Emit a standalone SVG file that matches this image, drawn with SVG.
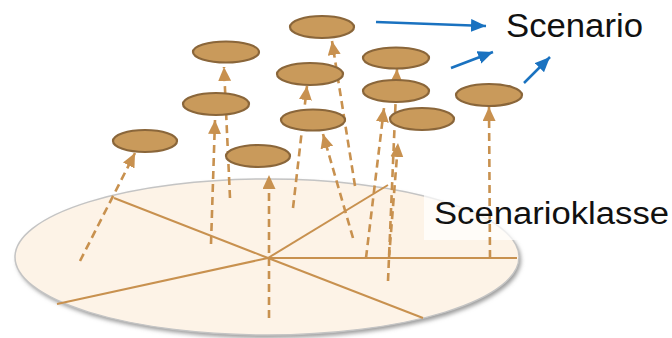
<svg xmlns="http://www.w3.org/2000/svg" width="672" height="338" viewBox="0 0 672 338">
<style>
.radial{stroke:#c8914f;stroke-width:2;fill:none}
.dash{stroke:#c8914f;stroke-width:2.6;stroke-dasharray:8 5;fill:none;marker-end:url(#tan)}
.node{fill:#c99a5b;stroke:#8a663a;stroke-width:2.2}
.blue{stroke:#1a72c0;stroke-width:2.5;fill:none;marker-end:url(#blu)}
.lbl{font-family:"Liberation Sans",Arial,sans-serif;fill:#111}
</style>
<defs>
<marker id="tan" markerUnits="userSpaceOnUse" markerWidth="15" markerHeight="14" refX="14" refY="6.5" orient="auto">
<path d="M0,0 L14,6.5 L0,13 z" fill="#c8914f"/>
</marker>
<marker id="blu" markerUnits="userSpaceOnUse" markerWidth="16" markerHeight="14" refX="15" refY="6.5" orient="auto">
<path d="M0,0 L15,6.5 L0,13 z" fill="#1a72c0"/>
</marker>
<filter id="sh" x="-10%" y="-10%" width="120%" height="130%">
<feGaussianBlur stdDeviation="2"/>
</filter>
</defs>
<g id="plane">
<ellipse cx="269" cy="260" rx="252" ry="78" fill="#9a9a9a" filter="url(#sh)"/>
<ellipse cx="267" cy="257" rx="252" ry="78" fill="#fdf3e7" stroke="#c4c4c4" stroke-width="1.5"/>
<line class="radial" x1="268" y1="258" x2="114" y2="198"/>
<line class="radial" x1="268" y1="258" x2="57" y2="304"/>
<line class="radial" x1="268" y1="258" x2="517" y2="258"/>
<line class="radial" x1="268" y1="258" x2="388" y2="185"/>
<line class="radial" x1="268" y1="258" x2="423" y2="318"/>
<rect x="424" y="188" width="248" height="52" fill="#ffffff" opacity="0.7"/>
</g>
<g id="connectors">
<line class="dash" x1="80" y1="261" x2="135" y2="153"/>
<line class="dash" x1="211" y1="244" x2="215" y2="120"/>
<line class="dash" x1="230" y1="198" x2="224" y2="67"/>
<line class="dash" x1="269" y1="318" x2="269" y2="175"/>
<line class="dash" x1="293" y1="208" x2="307" y2="86"/>
<line class="dash" x1="353" y1="238" x2="323" y2="134"/>
<line class="dash" x1="355" y1="186" x2="332" y2="41"/>
<line class="dash" x1="388" y1="281" x2="397" y2="69"/>
<line class="dash" x1="366" y1="258" x2="384" y2="108"/>
<line class="dash" x1="389" y1="258" x2="398" y2="143"/>
<line class="dash" x1="490" y1="258" x2="489" y2="107"/>
<line class="blue" x1="376" y1="22" x2="486" y2="26"/>
<line class="blue" x1="451" y1="68" x2="493" y2="52"/>
<line class="blue" x1="524" y1="83" x2="550" y2="57"/>
</g>
<g id="s1"><ellipse class="node" cx="322" cy="27" rx="32" ry="11"/></g>
<g id="s2"><ellipse class="node" cx="226" cy="52" rx="33" ry="10.5"/></g>
<g id="s3"><ellipse class="node" cx="310" cy="74" rx="33" ry="11"/></g>
<g id="s4"><ellipse class="node" cx="396" cy="58" rx="33" ry="10.5"/></g>
<g id="s5"><ellipse class="node" cx="216" cy="104" rx="33" ry="11"/></g>
<g id="s6"><ellipse class="node" cx="313" cy="120" rx="32" ry="10.5"/></g>
<g id="s7"><ellipse class="node" cx="396" cy="91" rx="33" ry="11"/></g>
<g id="s8"><ellipse class="node" cx="422" cy="119" rx="32" ry="11"/></g>
<g id="s9"><ellipse class="node" cx="489" cy="95" rx="33" ry="11"/></g>
<g id="s10"><ellipse class="node" cx="145" cy="141" rx="32" ry="11"/></g>
<g id="s11"><ellipse class="node" cx="258" cy="156" rx="32" ry="11"/></g>
<g id="labels">
<text class="lbl" x="506" y="37" font-size="33" textLength="137" lengthAdjust="spacingAndGlyphs">Scenario</text>
<text class="lbl" x="434" y="224" font-size="31" textLength="235" lengthAdjust="spacingAndGlyphs">Scenarioklasse</text>
</g>
</svg>
